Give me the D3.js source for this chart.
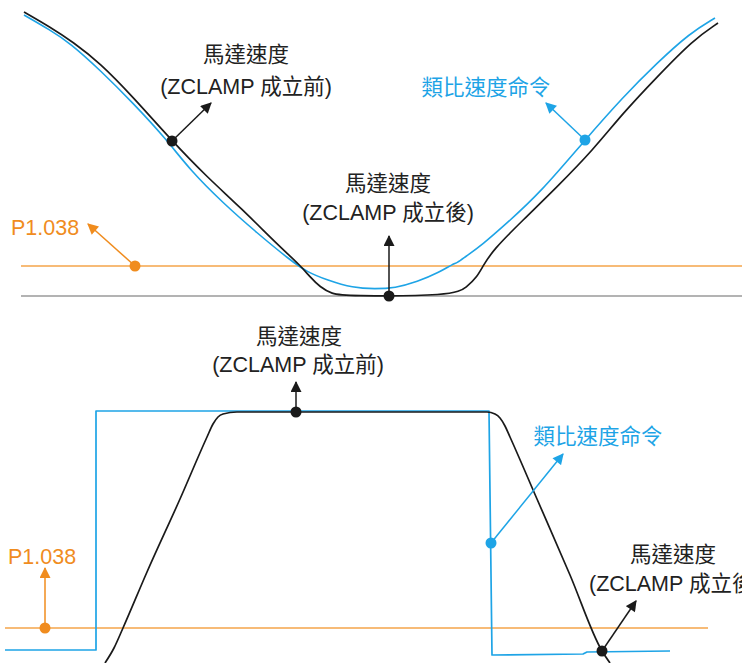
<!DOCTYPE html>
<html>
<head>
<meta charset="utf-8">
<script src="https://cdn.jsdelivr.net/npm/d3@7/dist/d3.min.js"></script>
<style>
  html, body { margin: 0; padding: 0; background: #ffffff; }
  svg { display: block; }
  text { font-family: "Liberation Sans", Arial, "Noto Sans CJK TC", sans-serif; }
</style>
</head>
<body>
<svg id="chart" width="742" height="663"></svg>
<script>
// ---------- DATA ----------
// Top panel (ZCLAMP via speed crossing), time in arbitrary units, speed in arbitrary units
const topTime        = [24, 50, 73, 100, 133, 172, 207, 240, 280, 300, 310, 320, 332, 345, 453, 467, 477, 483, 493, 523, 557, 593, 623, 657, 693, 718];
const topMotorSpeed  = [284, 269, 254, 233, 199, 155, 119, 89, 49, 31, 19, 9, 2, 0, 0, 9, 19, 30, 46, 76, 109, 146, 183, 219, 256, 273];
const topCmdTime     = [24, 50, 70, 100, 133, 167, 190, 223, 257, 290, 307, 327, 353, 375, 395, 417, 440, 453, 457, 465, 482, 507, 540, 585, 623, 657, 690, 715];
const topCmdSpeed    = [281, 266, 253, 226, 193, 156, 126, 93, 63, 36, 24, 16, 8, 7, 8, 14, 24, 32, 33, 39, 51, 73, 103, 156, 199, 233, 263, 278];
const topThreshold   = 30;   // P1.038
const topTimeRange   = [21, 742];

// Bottom panel (step speed command)
const botCmdTime     = [5, 96, 96, 489, 492, 583, 587, 670];
const botCmdSpeed    = [2, 2, 241, 241, -3, -2, 0, 1];
const botMotorTime   = [105, 114, 123, 147, 180, 207, 213, 218, 223, 237, 487, 495, 500, 505, 510, 537, 570, 602, 610];
const botMotorSpeed  = [-11, 4, 24, 80, 153, 215, 228, 235, 238, 240, 240, 238, 234, 226, 215, 153, 77, 1, -11];
const botThreshold   = 24;   // P1.038
const botTimeRange   = [5, 708];

// Labels
const labelMotor     = "馬達速度";
const labelBefore    = "(ZCLAMP 成立前)";
const labelAfter     = "(ZCLAMP 成立後)";
const labelCmd       = "類比速度命令";
const labelParam     = "P1.038";

// ---------- SCALES ----------
const svg = d3.select("#chart");
const x = d3.scaleLinear().domain([0, 742]).range([0, 742]);
const yTop = d3.scaleLinear().domain([0, 300]).range([296, -4]);
const yBot = d3.scaleLinear().domain([0, 300]).range([652, 352]);

const BLACK = "#1a1a1a", BLUE = "#1ea4e6", ORANGE_LINE = "#f5a54a", ORANGE = "#f08c1e", GRAY = "#9a9a9a", TEXT = "#222222";

// arrow markers
const defs = svg.append("defs");
function mk(id, color) {
  defs.append("marker").attr("id", id).attr("viewBox", "0 0 10 10")
    .attr("refX", 9).attr("refY", 5).attr("markerWidth", 12).attr("markerHeight", 11)
    .attr("markerUnits", "userSpaceOnUse").attr("orient", "auto")
    .append("path").attr("d", "M0,0 L10,5 L0,10 Z").attr("fill", color);
}
mk("arBlack", BLACK); mk("arBlue", BLUE); mk("arOrange", ORANGE);

const zip = (a, b) => a.map((v, i) => [v, b[i]]);

function drawLine(pts, yS, color, width, curve) {
  svg.append("path")
    .attr("d", d3.line().x(d => x(d[0])).y(d => yS(d[1])).curve(curve)(pts))
    .attr("fill", "none").attr("stroke", color).attr("stroke-width", width)
    .attr("stroke-linejoin", "round");
}
function arrow(x1, y1, x2, y2, color, id) {
  svg.append("line").attr("x1", x1).attr("y1", y1).attr("x2", x2).attr("y2", y2)
    .attr("stroke", color).attr("stroke-width", 1.5).attr("marker-end", `url(#${id})`);
}
function dot(cx, cy, color) {
  svg.append("circle").attr("cx", cx).attr("cy", cy).attr("r", 5.5).attr("fill", color);
}
function label(str, tx, ty, color, anchor) {
  svg.append("text").attr("x", tx).attr("y", ty).attr("fill", color)
    .attr("font-size", 21.5).attr("text-anchor", anchor || "middle").text(str);
}

// ---------- TOP PANEL ----------
drawLine(zip(topTimeRange, [0, 0]), yTop, GRAY, 1.5, d3.curveLinear);
drawLine(zip(topTimeRange, [topThreshold, topThreshold]), yTop, ORANGE_LINE, 1.5, d3.curveLinear);
drawLine(zip(topCmdTime, topCmdSpeed), yTop, BLUE, 1.6, d3.curveBasis);
drawLine(zip(topTime, topMotorSpeed), yTop, BLACK, 1.7, d3.curveBasis);

{
  const mx = x(topTime[5]), my = yTop(topMotorSpeed[5]);
  arrow(mx, my, mx + 39, my - 38, BLACK, "arBlack"); dot(mx, my, BLACK);
  label(labelMotor, 246, 62, TEXT); label(labelBefore, 246, 94, TEXT);

  const bx = x(topCmdTime[23]), by = yTop(topCmdSpeed[23]);
  arrow(bx, by, bx - 39, by - 37, BLUE, "arBlue"); dot(bx, by, BLUE);
  label(labelCmd, 486, 95, BLUE);

  const ox = x(135), oy = yTop(topThreshold);
  arrow(ox, oy, ox - 47, oy - 42, ORANGE, "arOrange"); dot(ox, oy, ORANGE);
  label(labelParam, 11, 235, ORANGE, "start");

  const zx = x(389), zy = yTop(0);
  arrow(zx, zy, zx, zy - 60, BLACK, "arBlack"); dot(zx, zy, BLACK);
  label(labelMotor, 388, 191, TEXT); label(labelAfter, 388, 220, TEXT);
}

// ---------- BOTTOM PANEL ----------
drawLine(zip(botTimeRange, [botThreshold, botThreshold]), yBot, ORANGE_LINE, 1.6, d3.curveLinear);
drawLine(zip(botCmdTime, botCmdSpeed), yBot, BLUE, 1.7, d3.curveLinear);
drawLine(zip(botMotorTime, botMotorSpeed), yBot, BLACK, 1.7, d3.curveMonotoneX);

{
  const mx = x(296), my = yBot(240);
  arrow(mx, my, mx, my - 30, BLACK, "arBlack"); dot(mx, my, BLACK);
  label(labelMotor, 299, 344, TEXT); label(labelBefore, 298, 372, TEXT);

  const bx = x(491), by = yBot(109);
  arrow(bx, by, bx + 72, by - 89, BLUE, "arBlue"); dot(bx, by, BLUE);
  label(labelCmd, 598, 444, BLUE);

  const ox = x(45), oy = yBot(botThreshold);
  arrow(ox, oy, ox, oy - 60, ORANGE, "arOrange"); dot(ox, oy, ORANGE);
  label(labelParam, 8, 564, ORANGE, "start");

  const kx = x(botMotorTime[17]), ky = yBot(botMotorSpeed[17]);
  arrow(kx, ky, kx + 34, ky - 50, BLACK, "arBlack"); dot(kx, ky, BLACK);
  label(labelMotor, 673, 562, TEXT); label(labelAfter, 589, 591, TEXT, "start");
}
</script>
</body>
</html>
